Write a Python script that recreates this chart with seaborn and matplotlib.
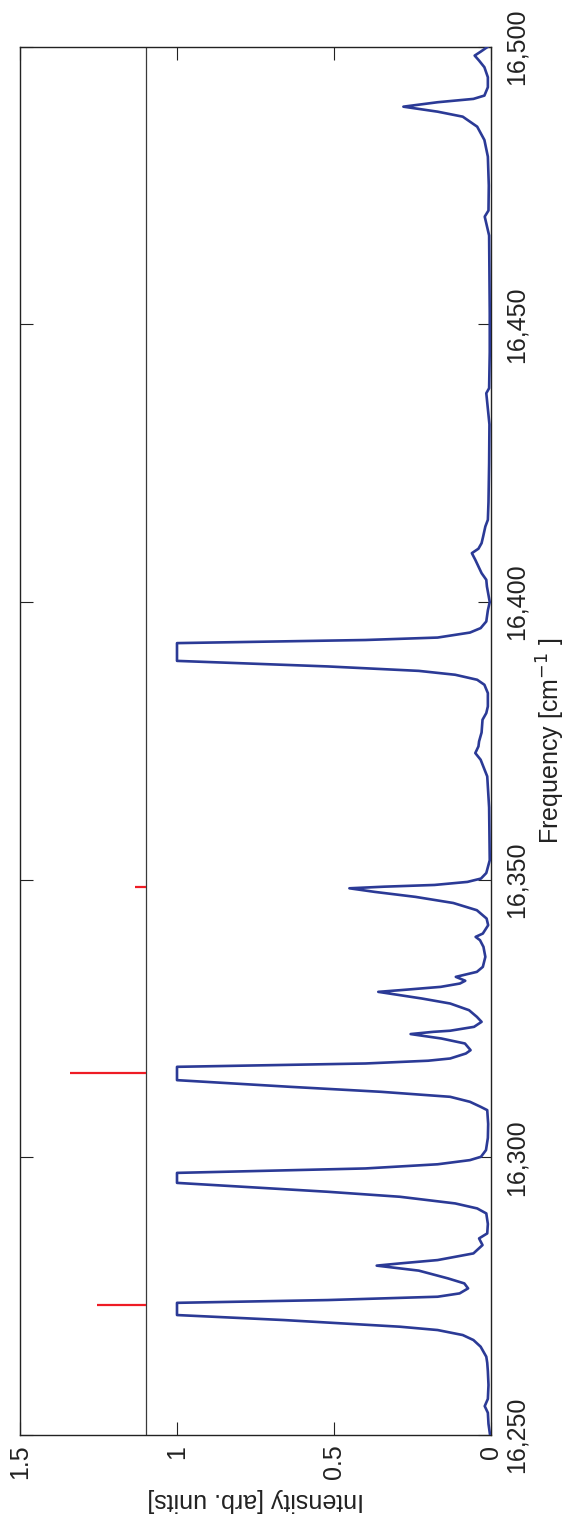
import matplotlib
matplotlib.use("Agg")
import matplotlib.pyplot as plt
import pandas as pd
import seaborn as sns
from matplotlib.ticker import StrMethodFormatter

# spectrum (frequency in cm^-1, intensity in arb. units)
frequency = [
	16250.0, 16252.0, 16254.0, 16255.2, 16256.5, 16259.0, 16261.5, 16263.0, 16264.1, 16265.9,
	16267.1, 16268.0, 16268.9, 16269.5, 16270.7, 16271.6, 16273.8, 16274.3, 16274.9, 16275.5,
	16276.4, 16277.3, 16278.2, 16279.6, 16280.5, 16280.9, 16281.5, 16282.7, 16284.2, 16285.4,
	16286.3, 16288.0, 16289.9, 16290.8, 16291.7, 16292.9, 16293.8, 16295.4, 16297.2, 16298.0,
	16298.75, 16299.5, 16300.1, 16301.3, 16303.5, 16306.0, 16308.5, 16309.1, 16310.0, 16310.9,
	16311.8, 16312.7, 16313.9, 16316.3, 16316.9, 16317.4, 16317.8, 16318.7, 16319.3, 16320.5,
	16321.4, 16322.2, 16322.6, 16322.8, 16323.5, 16324.4, 16325.3, 16326.5, 16327.7, 16328.6,
	16329.2, 16329.8, 16330.1, 16330.7, 16331.3, 16331.8, 16332.5, 16333.4, 16334.3, 16336.1,
	16337.9, 16339.1, 16339.7, 16340.3, 16341.8, 16343.0, 16344.5, 16345.8, 16346.9, 16347.8,
	16348.45, 16348.74, 16349.05, 16349.6, 16350.2, 16351.2, 16353.5, 16358.0, 16363.0, 16368.6,
	16371.6, 16372.8, 16374.0, 16374.9, 16376.5, 16378.8, 16380.0, 16381.2, 16383.6, 16385.1,
	16386.0, 16386.9, 16387.6, 16388.4, 16389.4, 16392.6, 16393.16, 16393.6, 16394.5, 16395.3,
	16396.5, 16398.5, 16400.0, 16402.8, 16404.0, 16405.2, 16407.0, 16407.6, 16408.8, 16409.6,
	16410.6, 16411.8, 16413.6, 16414.8, 16418.0, 16425.0, 16432.0, 16437.6, 16438.5, 16445.0,
	16452.0, 16460.0, 16466.0, 16469.4, 16470.5, 16475.0, 16480.2, 16483.2, 16485.6, 16487.4,
	16488.3, 16489.2, 16490.0, 16490.6, 16491.2, 16492.7, 16494.5, 16496.3, 16497.5, 16498.4,
	16499.1, 16500.0,
]
intensity = [
	0.003, 0.008, 0.010, 0.020, 0.010, 0.008, 0.010, 0.012, 0.015, 0.033,
	0.056, 0.090, 0.170, 0.290, 0.660, 1.000, 1.000, 0.520, 0.170, 0.100,
	0.073, 0.085, 0.137, 0.230, 0.364, 0.290, 0.170, 0.056, 0.027, 0.038,
	0.012, 0.010, 0.015, 0.044, 0.114, 0.290, 0.520, 1.000, 1.000, 0.400,
	0.170, 0.067, 0.032, 0.016, 0.010, 0.009, 0.012, 0.033, 0.067, 0.130,
	0.350, 0.640, 1.000, 1.000, 0.400, 0.200, 0.130, 0.080, 0.065, 0.083,
	0.158, 0.256, 0.184, 0.130, 0.054, 0.030, 0.045, 0.070, 0.130, 0.220,
	0.290, 0.359, 0.290, 0.160, 0.099, 0.082, 0.112, 0.045, 0.026, 0.018,
	0.024, 0.035, 0.049, 0.026, 0.009, 0.014, 0.045, 0.120, 0.240, 0.370,
	0.451, 0.340, 0.180, 0.075, 0.032, 0.015, 0.004, 0.005, 0.006, 0.012,
	0.033, 0.050, 0.040, 0.038, 0.030, 0.027, 0.015, 0.010, 0.010, 0.021,
	0.044, 0.114, 0.230, 0.520, 1.000, 1.000, 0.400, 0.170, 0.067, 0.033,
	0.015, 0.010, 0.004, 0.013, 0.015, 0.030, 0.045, 0.050, 0.061, 0.040,
	0.030, 0.025, 0.018, 0.010, 0.008, 0.006, 0.005, 0.015, 0.006, 0.004,
	0.004, 0.005, 0.006, 0.020, 0.008, 0.007, 0.010, 0.021, 0.044, 0.090,
	0.170, 0.279, 0.170, 0.056, 0.021, 0.010, 0.010, 0.021, 0.038, 0.052,
	0.033, 0.010,
]

# calculated line positions (red sticks) rising from the reference level
stick_frequency = [16273.4, 16315.2, 16348.7]
stick_height = [1.255, 1.34, 1.135]
reference_level = 1.1

freq_ticks = [16250, 16300, 16350, 16400, 16450, 16500]
intensity_ticks = [0, 0.5, 1, 1.5]
intensity_tick_labels = ["0", "0.5", "1", "1.5"]

df = pd.DataFrame({"frequency": frequency, "intensity": intensity})

sns.set_theme(style="ticks")
plt.rcParams["font.family"] = ["Liberation Sans", "DejaVu Sans"]

fig = plt.figure(figsize=(5.72, 15.22), dpi=100)
ax = fig.add_axes([20 / 572, 87 / 1522, 471 / 572, 1388.3 / 1522])

ax.axvline(reference_level, color="#3a3a3a", lw=0.9, zorder=1)
ax.hlines(stick_frequency, reference_level, stick_height, color="#ee1c25", lw=1.6, zorder=2)

sns.lineplot(
	data=df,
	x="intensity",
	y="frequency",
	sort=False,
	orient="y",
	estimator=None,
	color="#2b3a96",
	lw=1.9,
	ax=ax,
	zorder=3,
)

ax.set_xlim(1.5, 0)
ax.set_ylim(16250, 16500)

ax.set_xticks(intensity_ticks)
ax.set_xticklabels(intensity_tick_labels, rotation=90, fontsize=18)
ax.set_yticks(freq_ticks)
ax.yaxis.set_major_formatter(StrMethodFormatter("{x:,.0f}"))
ax.yaxis.tick_right()
for lbl in ax.get_yticklabels():
	lbl.set_rotation(90)
	lbl.set_fontsize(18)
	lbl.set_va("center")

ax.tick_params(axis="x", which="both", direction="in", length=9.5, width=0.8,
	top=True, bottom=True, pad=7, colors="#222222", labelcolor="#222222")
ax.tick_params(axis="y", which="both", direction="in", length=9.5, width=0.8,
	left=True, right=True, labelleft=False, labelright=True, pad=10,
	colors="#222222", labelcolor="#222222")

for spine in ax.spines.values():
	spine.set_visible(True)
	spine.set_color("#222222")
	spine.set_linewidth(1.0)

ax.set_xlabel("")
ax.set_ylabel("")
fig.text(255.5 / 572, 1 - 1500 / 1522, "Intensity [arb. units]", rotation=180,
	ha="center", va="center", fontsize=18, color="#222222")
fig.text(551 / 572, 1 - 741 / 1522, "Frequency [cm$^{-1}$ ]", rotation=90,
	ha="center", va="center", fontsize=18, color="#222222")

fig.savefig("out.png", dpi=100)
plt.close(fig)
